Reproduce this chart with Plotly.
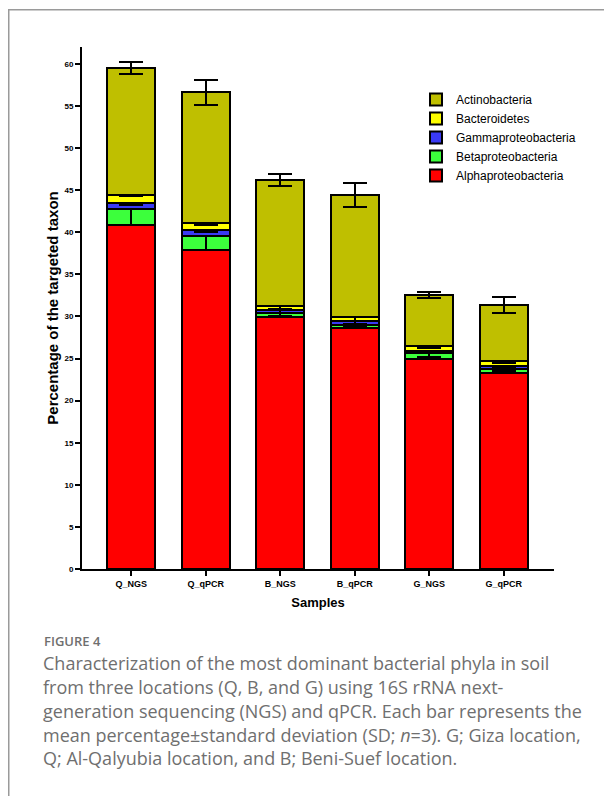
import plotly.graph_objects as go

samples = ["Q_NGS", "Q_qPCR", "B_NGS", "B_qPCR", "G_NGS", "G_qPCR"]

alpha = [40.85, 37.85, 29.9, 28.6, 24.95, 23.25]
beta = [1.95, 1.7, 0.5, 0.4, 0.65, 0.55]
gamma = [0.65, 0.75, 0.35, 0.45, 0.3, 0.3]
bacteroidetes = [0.95, 0.8, 0.45, 0.5, 0.55, 0.6]
actino = [15.1, 15.5, 15.0, 14.45, 6.05, 6.7]

alpha_sd = [0, 0, 0, 0, 0, 0]
beta_sd = [1.9, 1.7, 0.3, 0.3, 0.4, 0.3]
gamma_sd = [0.2, 0.3, 0.3, 0.4, 0.25, 0.15]
bacteroidetes_sd = [0.15, 0.3, 0.3, 0.5, 0.2, 0.25]
actino_sd = [0.75, 1.45, 0.75, 1.45, 0.35, 0.95]

series = [
    ("Alphaproteobacteria", alpha, alpha_sd, "#FF0000"),
    ("Betaproteobacteria", beta, beta_sd, "#3CFF3C"),
    ("Gammaproteobacteria", gamma, gamma_sd, "#3A3AF5"),
    ("Bacteroidetes", bacteroidetes, bacteroidetes_sd, "#FFFF00"),
    ("Actinobacteria", actino, actino_sd, "#BFBF00"),
]

caption_title = "FIGURE 4"
caption_lines = [
    "Characterization of the most dominant bacterial phyla in soil",
    "from three locations (Q, B, and G) using 16S rRNA next-",
    "generation sequencing (NGS) and qPCR. Each bar represents the",
    "mean percentage±standard deviation (SD; <i>n</i>=3). G; Giza location,",
    "Q; Al-Qalyubia location, and B; Beni-Suef location.",
]

W, H = 612, 796
L, R, T, B = 74, 66, 39, 235
pw, ph = W - L - R, H - T - B


def px(x):
    return (x - L) / pw


def py(y):
    return (H - B - y) / ph


fig = go.Figure()
for name, vals, sd, color in series:
    fig.add_trace(go.Bar(
        x=samples, y=vals, name=name,
        marker=dict(color=color, line=dict(color="black", width=2)),
        width=0.64,
        error_y=dict(type="data", array=sd, symmetric=True,
                     color="black", thickness=2, width=12),
    ))

ax_font = dict(family="Arial, Liberation Sans, sans-serif", color="black")

fig.update_layout(
    width=W, height=H,
    margin=dict(l=L, r=R, t=T, b=B),
    paper_bgcolor="white", plot_bgcolor="white",
    barmode="stack",
    showlegend=True,
    legend=dict(x=px(408), y=py(77), xanchor="left", yanchor="top",
                traceorder="reversed", bgcolor="rgba(0,0,0,0)",
                font=dict(family="Arial, Liberation Sans, sans-serif", size=12, color="black"),
                tracegroupgap=0, itemwidth=30),
    xaxis=dict(range=[-0.66, 5.675], showline=True, linewidth=2, linecolor="black",
               ticks="outside", ticklen=5, tickwidth=2, tickcolor="black",
               tickfont=dict(size=9, **ax_font), showgrid=False, zeroline=False,
               title=dict(text="<b>Samples</b>", font=dict(size=13, **ax_font), standoff=10)),
    yaxis=dict(range=[0, 62], dtick=5, showline=True, linewidth=2, linecolor="black",
               ticks="outside", ticklen=5, tickwidth=2, tickcolor="black",
               tickfont=dict(size=8, **ax_font), showgrid=False, zeroline=False,
               title=dict(text="<b>Percentage of the targeted taxon</b>",
                          font=dict(size=15, **ax_font), standoff=2)),
)
fig.update_xaxes(tickprefix="<b>", ticksuffix="</b>")
fig.update_yaxes(tickprefix="<b>", ticksuffix="</b>")

# figure frame
fig.add_shape(type="rect", xref="paper", yref="paper",
              x0=px(0.75), x1=px(640), y0=py(1.75), y1=py(820),
              line=dict(color="#9a9a9a", width=1.5), fillcolor="rgba(0,0,0,0)", layer="below")

cap_font = dict(family="Open Sans, Lato, sans-serif", color="#6f6f6f")
fig.add_annotation(text=caption_title, xref="paper", yref="paper",
                   x=px(34), y=py(633), xanchor="left", yanchor="middle", showarrow=False,
                   font=dict(size=13, weight=600, **cap_font))
line_y = [655, 679, 703, 727, 750]
for txt, yy in zip(caption_lines, line_y):
    fig.add_annotation(text=txt, xref="paper", yref="paper",
                       x=px(33), y=py(yy), xanchor="left", yanchor="middle", showarrow=False,
                       font=dict(size=18, **cap_font))

fig.write_html("out.html")
